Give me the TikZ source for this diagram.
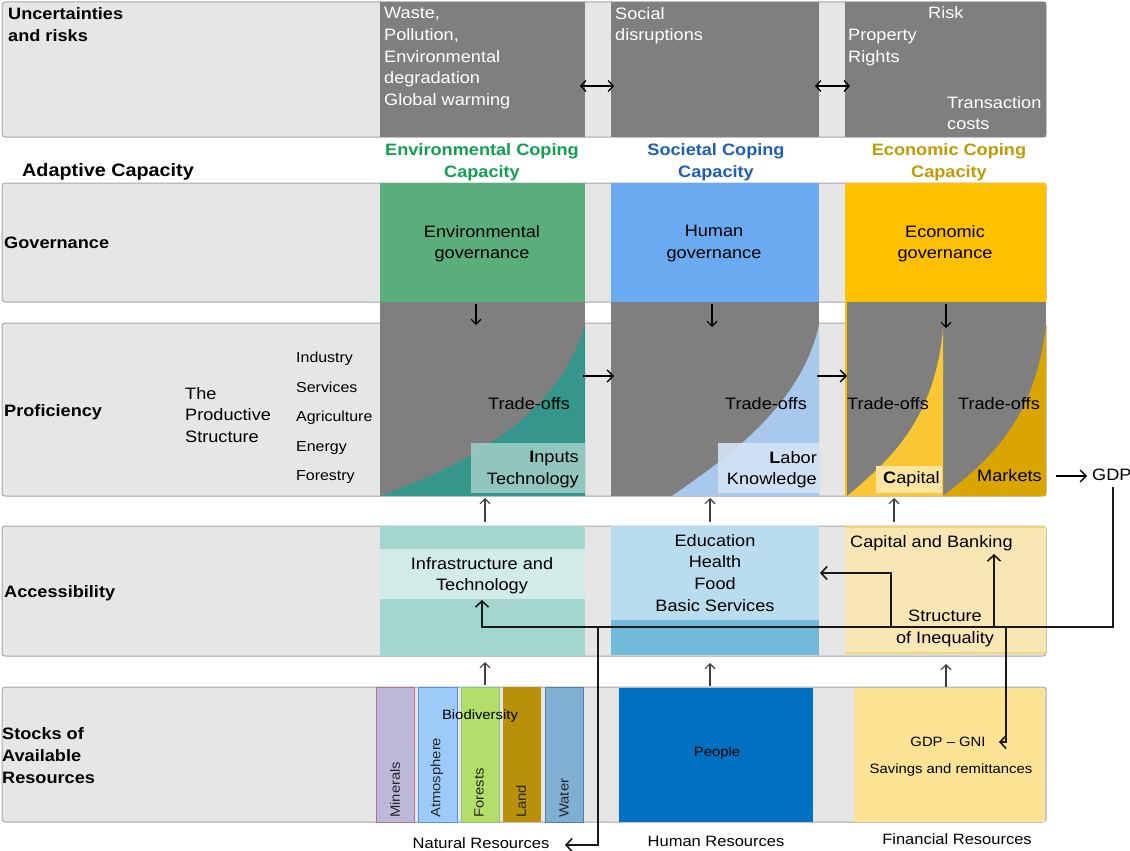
\documentclass[tikz,border=0pt]{standalone}
\usepackage{fontspec}
\setmainfont{Liberation Sans}[FakeStretch=1.1]
\usetikzlibrary{arrows.meta}
\definecolor{bgrow}{HTML}{E6E6E6}
\definecolor{rowline}{HTML}{A6A6A6}
\definecolor{dgray}{HTML}{7F7F7F}
\definecolor{envhd}{HTML}{10A04E}
\definecolor{sochd}{HTML}{1F5FAF}
\definecolor{ecohd}{HTML}{BF9B00}
\definecolor{envgov}{HTML}{5AAE7C}
\definecolor{socgov}{HTML}{6AAAF0}
\definecolor{ecogov}{HTML}{FFC000}
\definecolor{envcurve}{HTML}{35968C}
\definecolor{envbox}{HTML}{9CCCC5}
\definecolor{soccurve}{HTML}{A8C8EC}
\definecolor{socbox}{HTML}{D4E3F5}
\definecolor{ecocurveA}{HTML}{F9C733}
\definecolor{ecocurveB}{HTML}{DBA500}
\definecolor{ecobox}{HTML}{FDE5A0}
\definecolor{envacc}{HTML}{A3D6CE}
\definecolor{envband}{HTML}{D1EBE6}
\definecolor{socacc}{HTML}{B9DDEE}
\definecolor{socaccd}{HTML}{72BBDA}
\definecolor{ecoacc}{HTML}{F8E6B5}
\definecolor{ecoaccl}{HTML}{F2D27A}
\definecolor{minf}{HTML}{BDB7D9}
\definecolor{mind}{HTML}{B5728F}
\definecolor{atmf}{HTML}{9CCBFA}
\definecolor{atmd}{HTML}{5B8DEF}
\definecolor{forf}{HTML}{B3DE69}
\definecolor{ford}{HTML}{86C58A}
\definecolor{landf}{HTML}{B8900A}
\definecolor{watf}{HTML}{80AFD4}
\definecolor{watd}{HTML}{4B7DB8}
\definecolor{peoplef}{HTML}{0070C0}
\definecolor{finf}{HTML}{FDE394}
\begin{document}
\begin{tikzpicture}[x=1pt,y=-1pt,
  rowbox/.style={fill=bgrow,draw=rowline,line width=1pt,rounded corners=3pt},
  wtxt/.style={inner sep=0pt,text=white,font=\fontsize{16.5}{21.8}\selectfont,align=left,anchor=north west},
  btxt/.style={inner sep=0pt,text=black,font=\fontsize{16.5}{21.8}\selectfont,align=center,anchor=north},
  rtxt/.style={inner sep=0pt,text=black,font=\fontsize{16.5}{21.8}\selectfont,align=right,anchor=north east},
  ltxt/.style={inner sep=0pt,text=black,font=\fontsize{16.5}{21.8}\selectfont,align=left,anchor=north west},
  rowlab/.style={inner sep=0pt,text=black,font=\fontsize{16.5}{22}\selectfont\bfseries,align=left,anchor=north west},
  hdr/.style={inner sep=0pt,font=\fontsize{16.5}{22}\selectfont\bfseries,align=center,anchor=north},
  small/.style={inner sep=0pt,text=black,font=\fontsize{13.5}{16}\selectfont},
  vlab/.style={inner sep=0pt,text=black!85,font=\fontsize{13.5}{16}\selectfont,rotate=90,anchor=west},
  foot/.style={inner sep=0pt,text=black,font=\fontsize{15}{18}\selectfont},
  tiny arrow/.style={line width=1.1pt,draw=black!75,-{Straight Barb[length=5pt,width=10pt]}},
  conn/.style={line width=1.6pt,draw=black!90,-{Straight Barb[length=6pt,width=13pt]}}
]
\useasboundingbox (0,0) rectangle (1130,851);
% ---------- row backgrounds
\path[rowbox] (2,2) rectangle (1046,137);
\path[rowbox] (2,183) rectangle (1046,302);
\path[rowbox] (2,323) rectangle (1046,496);
\path[rowbox] (2,526) rectangle (1046,656);
\path[rowbox] (2,687) rectangle (1046,822);
% ---------- row 1: uncertainties
\fill[dgray] (380,2) rectangle (585,137);
\fill[dgray] (611,2) rectangle (819,137);
\fill[dgray] (845,2) rectangle (1046,137);
\node[rowlab] (unc) at (8,7) {Uncertainties\\and risks};
\node[wtxt] (waste) at (384,7) {Waste,\\Pollution,\\Environmental\\degradation\\Global warming};
\node[wtxt] (social) at (615,7) {Social\\disruptions};
\node[wtxt] (risk) at (928,6) {Risk};
\node[wtxt] (prop) at (848,29) {Property\\Rights};
\node[wtxt] (trans) at (947,96) {Transaction\\costs};
\coordinate (da1) at (580,86); \coordinate (db1) at (614,86);
\coordinate (da2) at (815,86); \coordinate (db2) at (850,86);
\draw[line width=1.3pt,{Straight Barb[length=5pt,width=11pt]}-{Straight Barb[length=5pt,width=11pt]}] (da1) -- (db1);
\draw[line width=1.3pt,{Straight Barb[length=5pt,width=11pt]}-{Straight Barb[length=5pt,width=11pt]}] (da2) -- (db2);
% ---------- headers
\node[inner sep=0pt,font=\fontsize{18}{22}\selectfont\bfseries,anchor=north west] (adapt) at (22,163) {Adaptive Capacity};
\node[hdr,text=envhd] (envh) at (482,143) {Environmental Coping\\Capacity};
\node[hdr,text=sochd] (soch) at (716,143) {Societal Coping\\Capacity};
\node[hdr,text=ecohd] (ecoh) at (949,143) {Economic Coping\\Capacity};
% ---------- row 2: governance
\fill[envgov] (380,183) rectangle (585,302);
\fill[socgov] (611,183) rectangle (819,302);
\fill[ecogov] (845,183) rectangle (1046,302);
\node[rowlab] (gov) at (4,237) {Governance};
\node[btxt] (envgovt) at (482,225) {Environmental\\governance};
\node[btxt] (socgovt) at (714,225) {Human\\governance};
\node[btxt] (ecogovt) at (945,225) {Economic\\governance};
% ---------- row 3: proficiency
\fill[dgray] (380,302) rectangle (585,496);
\fill[envcurve] (380,496) .. controls (480,460) and (560,410) .. (585,325) -- (585,496) -- cycle;
\fill[dgray] (611,302) rectangle (819,496);
\fill[soccurve] (672,496) .. controls (720,462) and (800,410) .. (819,325) -- (819,496) -- cycle;
\fill[dgray] (845,302) rectangle (1046,496);
\fill[ecocurveA] (847,496) .. controls (890,460) and (935,420) .. (943,328) -- (943,496) -- cycle;
\fill[ecocurveB] (943,496) .. controls (990,460) and (1035,420) .. (1046,325) -- (1046,496) -- cycle;
\fill[ecogov] (845,302) rectangle (847,496);
\node[rowlab] (prof) at (4,404) {Proficiency};
\node[ltxt] (prodstr) at (185,387) {The\\Productive\\Structure};
\node[inner sep=0pt,font=\fontsize{14.5}{29.5}\selectfont,align=left,anchor=north west] (sectors) at (296,352) {Industry\\Services\\Agriculture\\Energy\\Forestry};
\node[btxt] (toenv) at (529,397) {Trade-offs};
\fill[envbox,opacity=0.9] (471,443) rectangle (585,493);
\node[rtxt] (inputs) at (579,451) {\textbf{I}nputs\\Technology};
\node[btxt] (tosoc) at (766,397) {Trade-offs};
\fill[socbox,opacity=0.9] (718,443) rectangle (819,493);
\node[rtxt] (labor) at (817,451) {\textbf{L}abor\\Knowledge};
\node[btxt] (toecoA) at (888,397) {Trade-offs};
\node[btxt] (toecoB) at (999,397) {Trade-offs};
\fill[ecobox] (876,466) rectangle (942,493);
\node[ltxt] (capital) at (883,471) {\textbf{C}apital};
\node[ltxt] (markets) at (977,469) {Markets};
\node[ltxt] (gdp) at (1092,469) {GDP};
\coordinate (gdpa) at (1056,476); \coordinate (gdpb) at (1087,476);
\draw[line width=1.3pt,-{Straight Barb[length=6pt,width=12pt]}] (gdpa) -- (gdpb);
% governance -> proficiency
\coordinate (g1a) at (476,304); \coordinate (g1b) at (476,325);
\coordinate (g2a) at (712,304); \coordinate (g2b) at (712,327);
\coordinate (g3a) at (946,304); \coordinate (g3b) at (946,328);
\draw[line width=1.1pt,-{Straight Barb[length=5pt,width=10pt]}] (g1a) -- (g1b);
\draw[line width=1.1pt,-{Straight Barb[length=5pt,width=10pt]}] (g2a) -- (g2b);
\draw[line width=1.1pt,-{Straight Barb[length=5pt,width=10pt]}] (g3a) -- (g3b);
\coordinate (p1a) at (583,376); \coordinate (p1b) at (614,376);
\coordinate (p2a) at (817,376); \coordinate (p2b) at (847,376);
\draw[line width=1.3pt,-{Straight Barb[length=6pt,width=12pt]}] (p1a) -- (p1b);
\draw[line width=1.3pt,-{Straight Barb[length=6pt,width=12pt]}] (p2a) -- (p2b);
% ---------- row 4: accessibility
\fill[envacc] (380,526) rectangle (585,656);
\fill[envband] (380,549) rectangle (585,599);
\fill[socacc] (611,526) rectangle (819,620);
\fill[socaccd] (611,620) rectangle (819,655);
\fill[ecoacc] (845,526) rectangle (1046,654);
\draw[ecoaccl,line width=1.2pt] (845,527) -- (1046,527);
\draw[ecoaccl,line width=1.5pt] (845,653) -- (1046,653);
\node[rowlab] (acc) at (4,585) {Accessibility};
\node[btxt] (infra) at (482,557) {Infrastructure and\\Technology};
\node[btxt] (edu) at (715,534) {Education\\Health\\Food\\Basic Services};
\node[ltxt] (capbank) at (850,535) {Capital and Banking};
\node[btxt] (ineq) at (945,610) {Structure\\of Inequality};
% proficiency <- accessibility
\coordinate (u1a) at (485,522); \coordinate (u1b) at (485,498);
\coordinate (u2a) at (710,522); \coordinate (u2b) at (710,498);
\coordinate (u3a) at (894,522); \coordinate (u3b) at (894,498);
\draw[tiny arrow] (u1a) -- (u1b);
\draw[tiny arrow] (u2a) -- (u2b);
\draw[tiny arrow] (u3a) -- (u3b);
% ---------- row 5: stocks
\node[rowlab] (stocks) at (2,727) {Stocks of\\Available\\Resources};
\draw[fill=minf,draw=mind] (376,687) rectangle (414,822);
\draw[fill=atmf,draw=atmd] (418,687) rectangle (457,822);
\draw[fill=forf,draw=ford] (461,687) rectangle (499,822);
\fill[landf] (503,687) rectangle (541,822);
\draw[fill=watf,draw=watd] (545,687) rectangle (583,822);
\node[vlab] (minerals) at (395,818) {Minerals};
\node[vlab] (atmos) at (437,818) {Atmosphere};
\node[vlab] (forests) at (479,818) {Forests};
\node[vlab] (land) at (521,818) {Land};
\node[vlab] (water) at (564,818) {Water};
\node[small] (biod) at (480,716) {Biodiversity};
\fill[peoplef] (619,688) rectangle (813,822);
\node[small] (people) at (717,753) {People};
\fill[finf] (854,688) rectangle (1045,822);
\node[small] (gdpgni) at (948,742) {GDP -- GNI};
\node[small] (savings) at (951,770) {Savings and remittances};
\node[foot] (natres) at (481,843) {Natural Resources};
\node[foot] (humres) at (716,841) {Human Resources};
\node[foot] (finres) at (957,839) {Financial Resources};
% accessibility <- stocks
\coordinate (s1a) at (485,685); \coordinate (s1b) at (485,662);
\coordinate (s2a) at (710,686); \coordinate (s2b) at (710,663);
\coordinate (s3a) at (946,687); \coordinate (s3b) at (946,664);
\draw[tiny arrow] (s1a) -- (s1b);
\draw[tiny arrow] (s2a) -- (s2b);
\draw[tiny arrow] (s3a) -- (s3b);
% ---------- GDP feedback connectors
\coordinate (jR) at (1113,627);
\coordinate (jL) at (482,627);
\coordinate (infraT) at (482,600);
\coordinate (jN) at (598,627);
\coordinate (jNb) at (598,845);
\coordinate (natT) at (565,845);
\coordinate (jE) at (891,627);
\coordinate (jEt) at (891,573);
\coordinate (eduT) at (820,573);
\coordinate (jC) at (994,627);
\coordinate (capT) at (994,554);
\coordinate (jG) at (1006,627);
\coordinate (jGb) at (1006,742);
\coordinate (gniT) at (999,742);
\draw[conn] ([yshift=-6pt]gdp.south -| jR) -- (jR) -- (jL) -- (infraT);
\draw[conn] (jN) -- (jNb) -- (natT);
\draw[conn] (jE) -- (jEt) -- (eduT);
\draw[conn] (jC) -- (capT);
\draw[conn] (jG) -- (jGb) -- (gniT);
\end{tikzpicture}
\end{document}
